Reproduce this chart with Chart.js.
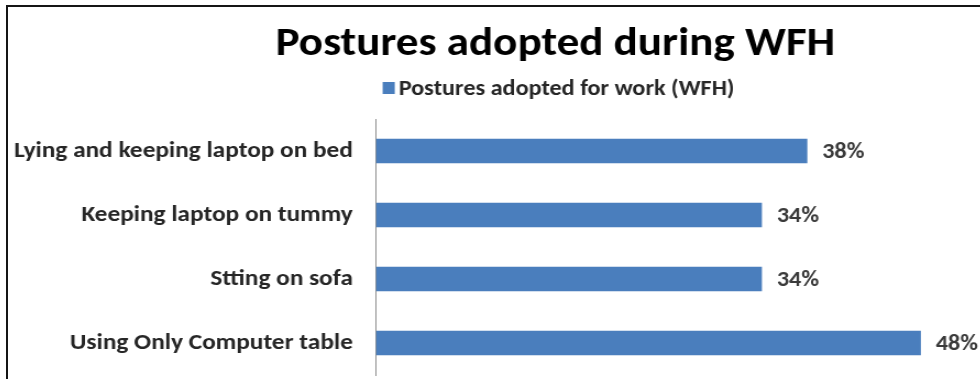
<!DOCTYPE html>
<html><head><meta charset="utf-8">
<script src="https://cdn.jsdelivr.net/npm/chart.js@4"></script>
<style>
html,body{margin:0;padding:0;background:#fff;overflow:hidden;width:980px;height:379px}
#frame{position:absolute;left:6px;top:5px;width:1200px;height:600px;border-left:2px solid #151515;border-top:2px solid #151515}
#wrap{position:absolute;left:8px;top:7px;width:1042px;height:372px;transform-origin:0 0;transform:scaleX(1.1)}
</style>
</head><body>
<div id="frame"></div>
<div id="wrap"><canvas id="chart" width="1042" height="372"></canvas></div>
<script>
// Postures adopted while working from home (share of respondents, %)
const categories = [
  'Lying and keeping laptop on bed',
  'Keeping laptop on tummy',
  'Stting on sofa',
  'Using Only Computer table'
];
const seriesName = 'Postures adopted for work (WFH)';
const values = [38, 34, 34, 48];

const FONT = 'Carlito, Calibri, Lato, sans-serif';
const BAR_COLOR = '#4a7ebd';

// Writes the percentage just past the end of each bar
const valueLabels = {
  id: 'valueLabels',
  afterDatasetsDraw(chart) {
    const ctx = chart.ctx;
    const meta = chart.getDatasetMeta(0);
    ctx.save();
    ctx.font = 'bold 22px ' + FONT;
    ctx.fillStyle = '#3a3a3a';
    ctx.textAlign = 'left';
    ctx.textBaseline = 'middle';
    meta.data.forEach((bar, i) => {
      ctx.fillText(values[i] + '%', bar.x + 13.5, bar.y + 1);
    });
    ctx.restore();
  }
};

// Single-series legend: small square swatch tight against its label,
// centred under the title
const seriesKey = {
  id: 'seriesKey',
  afterDraw(chart) {
    const ctx = chart.ctx;
    const tb = chart.titleBlock;
    const ds = chart.data.datasets[0];
    ctx.save();
    ctx.font = 'bold 22px ' + FONT;
    const textW = ctx.measureText(ds.label).width;
    const box = 11, gap = 3.6;
    const total = box + gap + textW;
    const left = (tb.left + tb.right) / 2 - total / 2 + 3;
    const baseline = 88.3;
    ctx.fillStyle = ds.backgroundColor;
    ctx.fillRect(left, baseline - 13.3, box, 12);
    ctx.fillStyle = '#262626';
    ctx.textAlign = 'left';
    ctx.textBaseline = 'alphabetic';
    ctx.fillText(ds.label, left + box + gap, baseline);
    ctx.restore();
  }
};

new Chart(document.getElementById('chart'), {
  type: 'bar',
  data: {
    labels: categories,
    datasets: [{
      label: seriesName,
      data: values,
      backgroundColor: BAR_COLOR,
      borderWidth: 0,
      categoryPercentage: 1,
      barPercentage: 0.38
    }]
  },
  options: {
    indexAxis: 'y',
    responsive: false,
    animation: false,
    devicePixelRatio: 1,
    layout: { padding: { left: 0, right: 47, top: 0, bottom: 4 } },
    plugins: {
      title: {
        display: true,
        text: 'Postures adopted during WFH',
        color: '#000',
        font: { family: FONT, size: 41, weight: 'bold' },
        padding: { top: 13, bottom: 49.8 }
      },
      legend: { display: false },
      tooltip: { enabled: false }
    },
    scales: {
      x: {
        min: 0,
        max: 64,
        display: false,
        grid: { display: false }
      },
      y: {
        grid: { display: false, drawTicks: false },
        border: { display: true, color: '#8c8c8c', width: 1 },
        ticks: {
          color: '#262626',
          font: { family: FONT, size: 23, weight: 'bold' },
          padding: 21
        },
        afterFit(scale) {
          scale.width = 334.5;
          scale.paddingTop = 0;
          scale.paddingBottom = 0;
        }
      }
    }
  },
  plugins: [valueLabels, seriesKey]
});
</script>
</body></html>
